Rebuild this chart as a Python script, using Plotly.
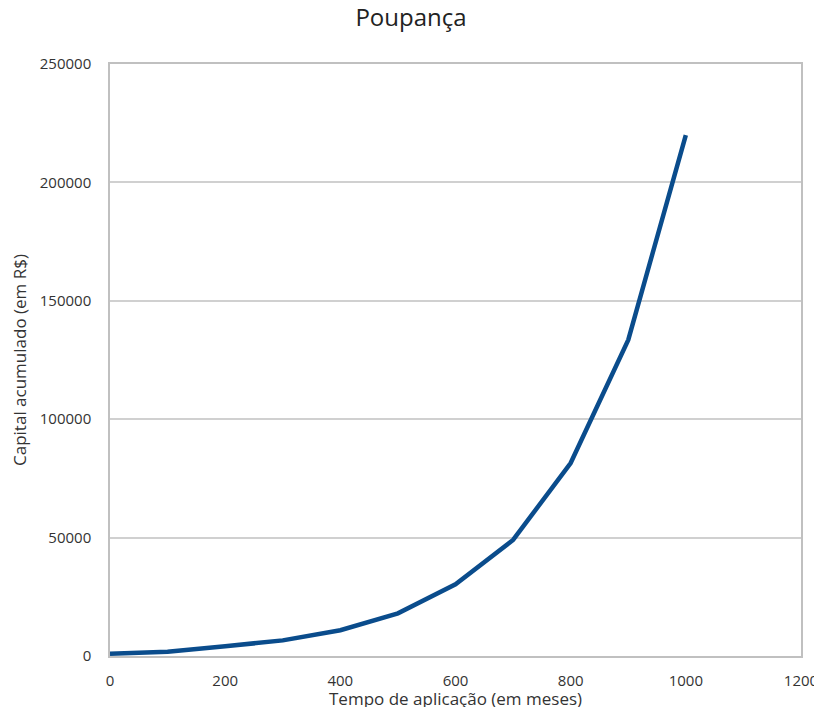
import plotly.graph_objects as go

meses = [0, 100, 200, 300, 400, 500, 600, 700, 800, 900, 1000]
capital = [1000, 1800, 4100, 6600, 10900, 18000, 30300, 49000, 81500, 133500, 220000]

x_ticks = [0, 200, 400, 600, 800, 1000, 1200]
y_ticks = [0, 50000, 100000, 150000, 200000, 250000]

font = "Open Sans, Liberation Sans, sans-serif"

fig = go.Figure()
fig.add_trace(go.Scatter(
    x=meses, y=capital, mode="lines",
    line=dict(color="#0a4c8c", width=4.5),
    showlegend=False,
))

fig.update_layout(
    width=806, height=699,
    margin=dict(l=102, r=13, t=56, b=51, autoexpand=False),
    paper_bgcolor="white", plot_bgcolor="white",
    title=dict(text="Poupança", x=0.5, xref="container", xanchor="center",
               y=0.998, yref="container", yanchor="top",
               font=dict(family=font, size=24, color="#222")),
    font=dict(family=font, size=15, color="#333"),
    annotations=[dict(
        text="Tempo de aplicação (em meses)", xref="paper", yref="paper",
        x=0.5, y=0, xanchor="center", yanchor="middle", yshift=-42,
        showarrow=False, font=dict(size=17, color="#333"),
    )],
)
fig.update_xaxes(
    range=[0, 1200], tickvals=x_ticks, tickformat="d", showgrid=False, zeroline=False,
    showline=True, linecolor="#c0c0c0", linewidth=1.5, mirror=True,
    ticks="", tickfont=dict(size=15, color="#333"), ticklabelstandoff=10,
    ticklabeloverflow="allow",
)
fig.update_yaxes(
    range=[0, 250000], tickvals=y_ticks, tickformat="d", showgrid=True, gridcolor="#d0d0d0", gridwidth=1.5,
    zeroline=False, showline=True, linecolor="#c0c0c0", linewidth=1.5, mirror=True,
    ticks="", tickfont=dict(size=15, color="#333"), ticklabelstandoff=14,
    title=dict(text="Capital acumulado (em R$)", font=dict(size=17, color="#333"), standoff=10),
)

fig.write_html("out.html")
